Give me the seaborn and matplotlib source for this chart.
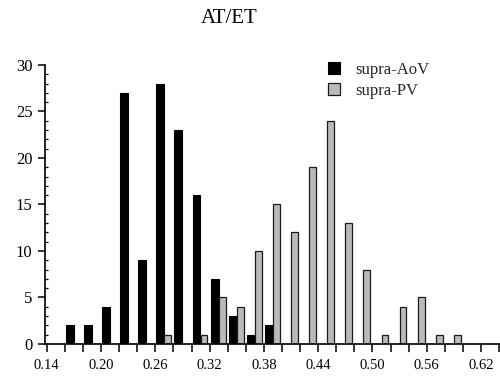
import numpy as np
import pandas as pd
import matplotlib
matplotlib.use("Agg")
import matplotlib.pyplot as plt
import seaborn as sns
from matplotlib.ticker import MultipleLocator

# ---- data ----
bins = [0.16, 0.18, 0.20, 0.22, 0.24, 0.26, 0.28, 0.30, 0.32, 0.34, 0.36,
        0.38, 0.40, 0.42, 0.44, 0.46, 0.48, 0.50, 0.52, 0.54, 0.56, 0.58]
supra_aov = [2, 2, 4, 27, 9, 28, 23, 16, 7, 3, 1,
             2, 0, 0, 0, 0, 0, 0, 0, 0, 0, 0]
supra_pv = [0, 0, 0, 0, 0, 1, 0, 1, 5, 4, 10,
            15, 12, 19, 24, 13, 8, 1, 4, 5, 1, 1]
series_names = ["supra-AoV", "supra-PV"]
x_tick_labels = ["0.14", "0.20", "0.26", "0.32", "0.38", "0.44", "0.50", "0.56", "0.62"]
y_tick_values = [0, 5, 10, 15, 20, 25, 30]
title = "AT/ET"

sns.set_theme(style="ticks")
plt.rcParams["font.family"] = ["Liberation Serif", "DejaVu Serif"]

fig = plt.figure(figsize=(5, 3.8), dpi=100)
ax = fig.add_axes([0.09, 0.095, 0.91, 0.734])

df = pd.DataFrame({"bin": bins, "aov": supra_aov, "pv": supra_pv})

sns.barplot(x=df["bin"] + 0.0055, y=df["aov"], native_scale=True, width=0.44,
            color="black", saturation=1, edgecolor="black", linewidth=0.8,
            label=series_names[0], ax=ax)
sns.barplot(x=df["bin"] + 0.0138, y=df["pv"], native_scale=True, width=0.38,
            color="#bababa", saturation=1, edgecolor="#1a1a1a", linewidth=0.9,
            label=series_names[1], ax=ax)

ax.set_xlim(0.138, 0.641)
ax.set_ylim(0, 30)
ax.set_xlabel("")
ax.set_ylabel("")

ax.set_xticks([float(s) for s in x_tick_labels], labels=x_tick_labels)
ax.xaxis.set_minor_locator(MultipleLocator(0.02))
ax.tick_params(axis="x", which="both", direction="out", length=6, width=1.1,
               color="black", labelsize=10.5, pad=5, labelcolor="black")

ax.set_yticks(y_tick_values, labels=[str(v) for v in y_tick_values])
ax.yaxis.set_minor_locator(MultipleLocator(1))
ax.tick_params(axis="y", which="major", direction="out", length=5, width=1.1,
               color="black", labelsize=12, pad=4, labelcolor="black")
ax.tick_params(axis="y", which="minor", direction="in", length=2.5, width=0.9,
               color="black")

for s in ["top", "right"]:
    ax.spines[s].set_visible(False)
for s in ["left", "bottom"]:
    ax.spines[s].set_color("black")
    ax.spines[s].set_linewidth(1.2)

leg = ax.legend(loc="upper left", bbox_to_anchor=(0.588, 1.066), frameon=False,
                fontsize=12, handlelength=0.75, handleheight=0.75, handletextpad=0.9,
                labelspacing=0.3)

fig.text(0.458, 0.952, title, ha="center", va="center", fontsize=15, color="black")

fig.savefig("out.png", dpi=100, facecolor="white")
